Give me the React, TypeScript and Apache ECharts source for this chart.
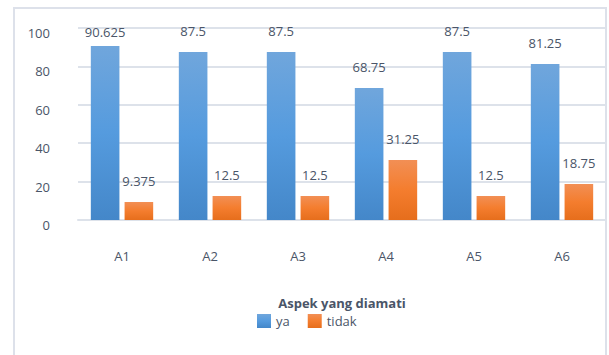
import React, { useEffect, useRef } from "react";
import * as echarts from "echarts";

const categories = ["A1", "A2", "A3", "A4", "A5", "A6"];
const yaValues = [90.625, 87.5, 87.5, 68.75, 87.5, 81.25];
const tidakValues = [9.375, 12.5, 12.5, 31.25, 12.5, 18.75];
const seriesNames = ["ya", "tidak"];
const axisTitle = "Aspek yang diamati";

const TEXT = "#4a5568";
const FONT = "'Open Sans', 'Noto Sans', sans-serif";

export default function App() {
  const ref = useRef<HTMLDivElement>(null);
  useEffect(() => {
    if (!ref.current) return;
    const chart = echarts.init(ref.current, null, { renderer: "svg" });
    const blue = new echarts.graphic.LinearGradient(0, 0, 0, 1, [
      { offset: 0, color: "#70a6dc" },
      { offset: 0.5, color: "#559bde" },
      { offset: 1, color: "#4487c9" },
    ]);
    const orange = new echarts.graphic.LinearGradient(0, 0, 0, 1, [
      { offset: 0, color: "#f28f55" },
      { offset: 0.5, color: "#f47d2e" },
      { offset: 1, color: "#e66e1c" },
    ]);
    const labelStyle = {
      show: true,
      position: "top",
      distance: 15,
      color: TEXT,
      fontSize: 13,
      fontFamily: FONT,
    };
    chart.setOption({
      animation: false,
      backgroundColor: "#ffffff",
      textStyle: { fontFamily: FONT },
      graphic: [
        {
          type: "rect",
          shape: { x: 14, y: 8, width: 592, height: 360 },
          style: { fill: "none", stroke: "#dde1ea", lineWidth: 2 },
          silent: true,
        },
      ],
      grid: { left: 78, right: 3, top: 28, bottom: 135 },
      legend: {
        data: seriesNames,
        left: 252,
        top: 309,
        itemWidth: 14,
        itemHeight: 14,
        itemGap: 18,
        icon: "rect",
        textStyle: { color: TEXT, fontSize: 13, fontFamily: FONT },
      },
      xAxis: {
        type: "category",
        data: categories,
        name: axisTitle,
        nameLocation: "middle",
        nameGap: 76,
        nameTextStyle: { color: TEXT, fontSize: 13, fontWeight: "bold", fontFamily: FONT },
        axisLine: { show: true, lineStyle: { color: "#dde2ea", width: 2 } },
        axisTick: { show: false },
        axisLabel: { color: TEXT, fontSize: 13, margin: 29, fontFamily: FONT },
      },
      yAxis: {
        type: "value",
        min: 0,
        max: 100,
        interval: 20,
        axisLine: { show: false },
        axisTick: { show: false },
        splitLine: { lineStyle: { color: "#dde2ea", width: 2 } },
        axisLabel: {
          color: TEXT,
          fontSize: 13,
          margin: 28,
          verticalAlign: "top",
          lineHeight: 10,
          fontFamily: FONT,
        },
      },
      series: [
        {
          name: seriesNames[0],
          type: "bar",
          data: yaValues.map((v) =>
            v > 90 ? { value: v, label: { distance: 8 } } : v
          ),
          barWidth: "32.5%",
          barGap: "18%",
          itemStyle: { color: blue },
          label: labelStyle,
        },
        {
          name: seriesNames[1],
          type: "bar",
          data: tidakValues,
          barWidth: "32.5%",
          itemStyle: { color: orange },
          label: labelStyle,
        },
      ],
    });
    return () => chart.dispose();
  }, []);
  return (
    <div
      ref={ref}
      style={{ position: "fixed", left: 0, top: 0, width: 609, height: 355 }}
    />
  );
}
